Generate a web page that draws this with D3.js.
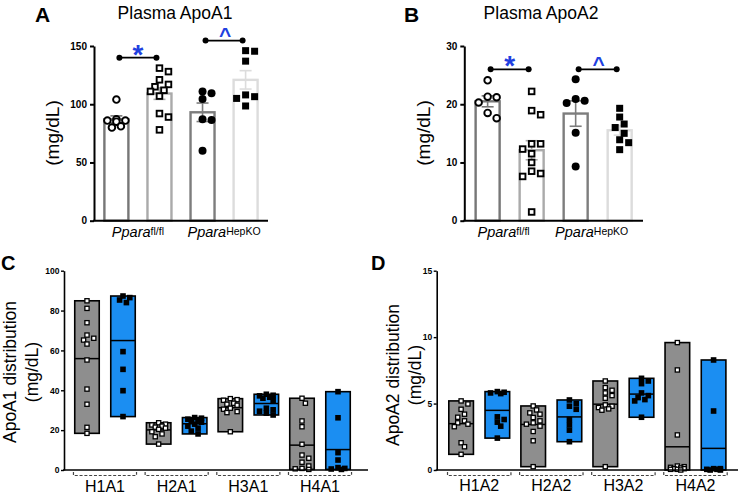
<!DOCTYPE html>
<html><head><meta charset="utf-8">
<script src="https://cdn.jsdelivr.net/npm/d3@7"></script>
<style>
body{margin:0;background:#fff}
svg{display:block;font-family:"Liberation Sans",Arial,Helvetica,sans-serif}
</style>
</head><body>
<svg id="chart" width="738" height="497"></svg>
<script>
// ---------- DATA ----------
const barGroups = ["flCtrl", "flTrt", "koCtrl", "koTrt"];
const genotypes = [{base: "Ppara", sup: "fl/fl"}, {base: "Ppara", sup: "HepKO"}];
const apoA1Plasma = [
  [104, 87, 86, 86, 85, 81, 80],
  [131, 128, 121, 117, 115, 112, 111, 107, 92, 89, 78],
  [111, 109.5, 104.5, 87, 86.5, 60],
  [146, 145.5, 137, 108, 106.5, 105, 98.5]
];
const apoA2Plasma = [
  [24.1, 21.3, 21.2, 20.3, 18.5, 17.6],
  [22.2, 18.9, 18.2, 13.2, 13.2, 12.3, 11.5, 10, 8.5, 8.1, 7.6, 1.5],
  [24.3, 20.9, 20.6, 20.2, 15.1, 9.3],
  [19.3, 17.8, 16.6, 16.0, 15.0, 13.9, 13.4, 12.2]
];
const apoA1Sig = [{from: 0, to: 1, y: 140, mark: "*"}, {from: 2, to: 3, y: 154.7, mark: "^"}];
const apoA2Sig = [{from: 0, to: 1, y: 26, mark: "*"}, {from: 2, to: 3, y: 26, mark: "^"}];
const apoA1Ticks = [0, 50, 100, 150];
const apoA2Ticks = [0, 10, 20, 30];

const fractionsA1 = ["H1A1", "H2A1", "H3A1", "H4A1"];
const fractionsA2 = ["H1A2", "H2A2", "H3A2", "H4A2"];
const a1Grey = [
  [84.9, 81.1, 73.9, 67.7, 66.1, 65.2, 63.2, 55.2, 40.6, 33, 21.4, 18.4],
  [23.7, 23, 22.6, 22, 21.5, 21, 20.4, 19.2, 18.1, 16.7, 13],
  [35.8, 35.3, 35, 33.5, 33, 32.5, 31, 30.5, 29.3, 28.8, 19.2],
  [36, 33.5, 24.6, 21.7, 12.9, 7.5, 5.9, 3.9, 2, 0.6, 0.3, 0.8]
];
const a1Blue = [
  [87.3, 86.5, 85.3, 84, 59.4, 50.5, 39.8, 26.8],
  [26.3, 26, 25.5, 25, 24.8, 24, 23, 22, 21, 19.5, 18.1],
  [38, 37.5, 37.2, 36.5, 36, 35, 31, 30.2, 29.5, 28.5, 27.6],
  [39.3, 26.2, 8.7, 5, 1.2, 0.8, 0.5, 0.3]
];
const a2Grey = [
  [5.2, 4.97, 4.57, 4.2, 3.97, 3.7, 3.55, 3.45, 3.26, 2.05, 1.75, 1.18],
  [4.82, 4.52, 4.3, 4.2, 3.95, 3.7, 3.55, 3.45, 3.3, 2.9, 2.2, 0.25],
  [6.7, 6.2, 6.0, 5.8, 5.6, 5.4, 4.9, 4.8, 4.7, 4.6, 4.5, 0.25],
  [9.59, 7.53, 2.64, 0.3, 0.25, 0.2, 0.15, 0.1, 0.1, 0.05, 0.05, 0]
];
const a2Blue = [
  [5.9, 5.85, 5.8, 5.75, 4.0, 3.8, 3.6, 3.3, 2.4],
  [5.27, 5.0, 4.8, 4.57, 3.8, 3.4, 3.0, 2.13],
  [6.9, 6.7, 6.5, 5.8, 5.6, 5.45, 5.3, 5.2, 3.97],
  [8.28, 4.44, 0.1, 0.1, 0.05, 0.05, 0, 0]
];
const a1Ticks = [0, 20, 40, 60, 80, 100];
const a2Ticks = [0, 5, 10, 15];

// ---------- STYLE ----------
const barStroke = ["#777777", "#aaaaaa", "#7d7d7d", "#dcdcdc"];
const sigBlue = "#2140e0";
const greyFill = "#8e8e8e";
const blueFill = "#1b8ef2";

const svg = d3.select("#chart");

function swarm(vals, y, cx, diam, step, maxOff) {
  const order = d3.range(vals.length).sort((a, b) => vals[b] - vals[a]);
  const placed = [], out = new Array(vals.length);
  for (const i of order) {
    const py = y(vals[i]);
    let best = 0, bestOv = Infinity;
    for (let k = 0; k <= 30; k++) {
      const off = k === 0 ? 0 : (k % 2 ? 1 : -1) * Math.ceil(k / 2) * step;
      if (Math.abs(off) > maxOff) break;
      let ov = 0;
      for (const p of placed) {
        const d = Math.hypot(p.x - (cx + off), p.y - py);
        if (d < diam) ov += diam - d;
      }
      if (ov === 0) { best = off; bestOv = 0; break; }
      if (ov < bestOv) { bestOv = ov; best = off; }
    }
    out[i] = {x: cx + best, y: py};
    placed.push(out[i]);
  }
  return out;
}

function sem(a) { return d3.deviation(a) / Math.sqrt(a.length); }

// ---------- BAR PANELS (A, B) ----------
function barPanel(o) {
  const g = svg.append("g");
  const y = d3.scaleLinear().domain([0, o.yMax]).range([220.7, 46]);
  const x = d3.scalePoint().domain(barGroups).range([o.left, o.right]).padding(o.pad);
  const bw = 24;

  barGroups.forEach((k, i) => {
    const vals = o.data[i], m = d3.mean(vals), s = sem(vals);
    g.append("rect").attr("x", x(k) - bw / 2).attr("y", y(m))
      .attr("width", bw).attr("height", y(0) - y(m))
      .attr("fill", "#fff").attr("stroke", barStroke[i]).attr("stroke-width", 2.4);
    g.append("line").attr("x1", x(k)).attr("x2", x(k)).attr("y1", y(m + s)).attr("y2", y(m - s))
      .attr("stroke", barStroke[i]).attr("stroke-width", 1.6);
    [m + s, m - s].forEach(v => g.append("line").attr("x1", x(k) - 6).attr("x2", x(k) + 6)
      .attr("y1", y(v)).attr("y2", y(v)).attr("stroke", barStroke[i]).attr("stroke-width", 1.6));
  });

  barGroups.forEach((k, i) => {
    const pts = swarm(o.data[i], y, x(k), 7.5, 4.5, 12);
    const filled = i >= 2, square = i % 2 === 1;
    pts.forEach(p => {
      if (square) {
        const sz = filled ? 7 : 5.6;
        g.append("rect").attr("x", p.x - sz / 2).attr("y", p.y - sz / 2).attr("width", sz).attr("height", sz)
          .attr("fill", filled ? "#000" : "#fff").attr("stroke", "#000").attr("stroke-width", filled ? 0 : 1.9);
      } else {
        g.append("circle").attr("cx", p.x).attr("cy", p.y).attr("r", filled ? 4 : 3.3)
          .attr("fill", filled ? "#000" : "#fff").attr("stroke", "#000").attr("stroke-width", filled ? 0 : 1.9);
      }
    });
  });

  const ax = g.append("g").attr("transform", `translate(${o.left},0)`)
    .call(d3.axisLeft(y).tickValues(o.ticks).tickSize(4).tickSizeOuter(0).tickPadding(3));
  ax.select(".domain").attr("stroke-width", 2);
  ax.selectAll(".tick line").attr("stroke-width", 2);
  ax.selectAll("text").attr("font-size", 10).attr("font-weight", "bold").attr("fill", "#000")
    .attr("font-family", "Liberation Sans, Arial, sans-serif");
  g.append("line").attr("x1", o.left - 1).attr("x2", o.right).attr("y1", y(0)).attr("y2", y(0))
    .attr("stroke", "#000").attr("stroke-width", 2);

  genotypes.forEach((gt, j) => {
    const cx = (x(barGroups[2 * j]) + x(barGroups[2 * j + 1])) / 2 + o.labShift;
    const t = g.append("text").attr("x", cx).attr("y", 237).attr("text-anchor", "middle");
    t.append("tspan").attr("font-size", 14.5).attr("font-style", "italic").text(gt.base);
    t.append("tspan").attr("font-size", 10.5).attr("dy", -2.5).text(gt.sup);
  });

  o.sig.forEach(sg => {
    const x1 = x(barGroups[sg.from]) + 3, x2 = x(barGroups[sg.to]) - 3, yy = y(sg.y);
    g.append("line").attr("x1", x1).attr("x2", x2).attr("y1", yy).attr("y2", yy)
      .attr("stroke", "#000").attr("stroke-width", 1.8);
    [x1, x2].forEach(xx => g.append("circle").attr("cx", xx).attr("cy", yy).attr("r", 3).attr("fill", "#000"));
    const mx = (x1 + x2) / 2;
    if (sg.mark === "*") {
      g.append("text").attr("x", mx).attr("y", yy + 6).attr("text-anchor", "middle")
        .attr("font-size", 28).attr("font-weight", "bold").attr("fill", sigBlue).text("*");
    } else {
      g.append("text").attr("x", mx + 1).attr("y", yy + 1.5).attr("text-anchor", "middle")
        .attr("font-size", 21).attr("font-weight", "bold").attr("fill", sigBlue).text("^");
    }
  });

  g.append("text").attr("x", o.titleX).attr("y", 19).attr("text-anchor", "middle")
    .attr("font-size", 17.5).text(o.title);
  g.append("text").attr("x", o.letterX).attr("y", 22).attr("font-size", 21).attr("font-weight", "bold").text(o.letter);
  g.append("text").attr("transform", `translate(${o.ylabX},133) rotate(-90)`).attr("text-anchor", "middle")
    .attr("font-size", 19).text("(mg/dL)");
}

barPanel({left: 94, right: 268, pad: 0.52, yMax: 150, ticks: apoA1Ticks, data: apoA1Plasma, sig: apoA1Sig,
  title: "Plasma ApoA1", titleX: 175, letter: "A", letterX: 35, ylabX: 59, labShift: 0});
barPanel({left: 464.3, right: 643, pad: 0.53, yMax: 30, ticks: apoA2Ticks, data: apoA2Plasma, sig: apoA2Sig,
  title: "Plasma ApoA2", titleX: 541, letter: "B", letterX: 404, ylabX: 430, labShift: -6});

// ---------- FLOATING BAR PANELS (C, D) ----------
function rangePanel(o) {
  const g = svg.append("g");
  const y = d3.scaleLinear().domain([0, o.yMax]).range([470, 270.7]);
  const outer = d3.scaleBand().domain(o.cats).range([o.left, o.right]).paddingOuter(o.padOuter).paddingInner(0);
  const inner = d3.scaleBand().domain(["grey", "blue"]).range([0, outer.bandwidth()])
    .paddingInner(0.32).paddingOuter(0.155);
  const series = [{key: "grey", data: o.grey, fill: greyFill, open: true},
                  {key: "blue", data: o.blue, fill: blueFill, open: false}];

  o.cats.forEach((c, i) => {
    series.forEach(s => {
      const vals = s.data[i];
      const [mn, mx] = d3.extent(vals), mean = d3.mean(vals);
      const x0 = outer(c) + inner(s.key), bw = inner.bandwidth();
      g.append("rect").attr("x", x0).attr("y", y(mx)).attr("width", bw).attr("height", y(mn) - y(mx))
        .attr("fill", s.fill).attr("stroke", "#000").attr("stroke-width", 1.6);
      g.append("line").attr("x1", x0).attr("x2", x0 + bw).attr("y1", y(mean)).attr("y2", y(mean))
        .attr("stroke", "#000").attr("stroke-width", 1.5);
      const pts = swarm(vals, y, x0 + bw / 2, 5.2, 3.4, 9);
      pts.forEach(p => {
        const sz = s.open ? 4.2 : 5.6;
        g.append("rect").attr("x", p.x - sz / 2).attr("y", p.y - sz / 2).attr("width", sz).attr("height", sz)
          .attr("fill", s.open ? "#fff" : "#000").attr("stroke", "#000").attr("stroke-width", s.open ? 1.3 : 0);
      });
    });
    const cx = outer(c) + outer.bandwidth() / 2, hw = outer.bandwidth() * 0.44, by = 475.5;
    g.append("path").attr("d", `M${cx - hw},${by - 3.5}V${by}H${cx + hw}V${by - 3.5}`)
      .attr("fill", "none").attr("stroke", "#444").attr("stroke-width", 1.2).attr("stroke-dasharray", "3,1.8");
    g.append("text").attr("x", cx).attr("y", o.labY).attr("text-anchor", "middle").attr("font-size", 16).text(c);
  });

  const ax = g.append("g").attr("transform", `translate(${o.left},0)`)
    .call(d3.axisLeft(y).tickValues(o.ticks).tickSize(3).tickSizeOuter(0).tickPadding(1.5));
  ax.select(".domain").attr("stroke-width", 1.6);
  ax.selectAll(".tick line").attr("stroke-width", 1.4);
  ax.selectAll("text").attr("font-size", 8.5).attr("font-weight", "bold").attr("fill", "#000")
    .attr("font-family", "Liberation Sans, Arial, sans-serif");
  g.append("line").attr("x1", o.left - 1).attr("x2", o.axisEnd).attr("y1", y(0)).attr("y2", y(0))
    .attr("stroke", "#000").attr("stroke-width", 1.6);

  g.append("text").attr("x", o.letterX).attr("y", 269.5).attr("font-size", 20).attr("font-weight", "bold").text(o.letter);
  const yl = g.append("text").attr("transform", `translate(${o.ylabX},${o.ylabY}) rotate(-90)`)
    .attr("text-anchor", "middle").attr("font-size", 17.5);
  yl.append("tspan").attr("x", 0).attr("y", 0).text(o.ylab);
  yl.append("tspan").attr("x", 0).attr("y", 21.5).text("(mg/dL)");
}

rangePanel({cats: fractionsA1, grey: a1Grey, blue: a1Blue, yMax: 100, ticks: a1Ticks,
  left: 64, right: 361, padOuter: 0.072, axisEnd: 368, labY: 492,
  letter: "C", letterX: 1, ylab: "ApoA1 distribution", ylabX: 16, ylabY: 372});
rangePanel({cats: fractionsA2, grey: a2Grey, blue: a2Blue, yMax: 15, ticks: a2Ticks,
  left: 436.7, right: 738, padOuter: 0.09, axisEnd: 738, labY: 491,
  letter: "D", letterX: 371, ylab: "ApoA2 distribution", ylabX: 399, ylabY: 375});
</script>
</body></html>
